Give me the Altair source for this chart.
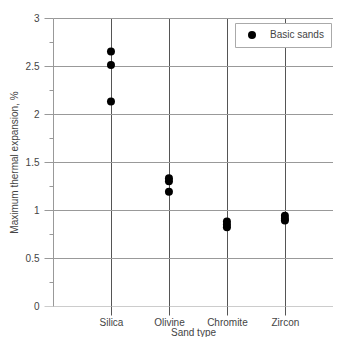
import altair as alt
import pandas as pd

sand_types = ["Silica", "Olivine", "Chromite", "Zircon"]
silica = [2.65, 2.51, 2.13]
olivine = [1.33, 1.30, 1.19]
chromite = [0.88, 0.85, 0.82]
zircon = [0.94, 0.91, 0.89]
series_name = "Basic sands"

rows = []
for i, (name, vals) in enumerate(zip(sand_types, [silica, olivine, chromite, zircon])):
    for v in vals:
        rows.append({"pos": i + 1, "sand": name, "value": v, "series": series_name})
df = pd.DataFrame(rows)

label_map = "{" + ",".join(f"'{i+1}':'{n}'" for i, n in enumerate(sand_types)) + "}"
y_values = [i * 0.25 for i in range(13)]

font = "Liberation Sans"
text_color = "#444444"

chart = alt.Chart(df).mark_circle(size=64, opacity=1).encode(
    x=alt.X(
        "pos:Q",
        scale=alt.Scale(domain=[0, 4.83], nice=False, zero=False),
        axis=alt.Axis(
            values=[1, 2, 3, 4],
            labelExpr=f"{label_map}[datum.value]",
            title="Sand type",
            grid=True,
            gridColor="#555555",
            gridWidth=1,
            domain=False,
            ticks=True,
            tickSize=9,
            tickColor="#555555",
            labelPadding=2,
            titlePadding=0,
            labelFont=font,
            titleFont=font,
            labelFontSize=10,
            titleFontSize=10,
            titleFontWeight="normal",
            labelColor=text_color,
            titleColor=text_color,
        ),
    ),
    y=alt.Y(
        "value:Q",
        scale=alt.Scale(domain=[0, 3], nice=False),
        axis=alt.Axis(
            values=y_values,
            labelExpr="datum.value % 0.5 == 0 ? format(datum.value, '~g') : ''",
            title="Maximum thermal expansion, %",
            grid=True,
            gridColor={"condition": {"test": "datum.value == 0", "value": "#cccccc"}, "value": "#999999"},
            gridOpacity={"condition": {"test": "datum.value % 0.5 != 0", "value": 0}, "value": 1},
            tickSize={"condition": {"test": "datum.value % 0.5 != 0", "value": 4}, "value": 9},
            tickColor={"condition": {"test": "datum.value == 0", "value": "#cccccc"}, "value": "#999999"},
            domainColor="#999999",
            labelPadding=5,
            titlePadding=5,
            labelFont=font,
            titleFont=font,
            labelFontSize=10,
            titleFontSize=10,
            titleFontWeight="normal",
            labelColor=text_color,
            titleColor=text_color,
        ),
    ),
    color=alt.Color(
        "series:N",
        scale=alt.Scale(range=["black"]),
        legend=alt.Legend(
            title=None,
            orient="none",
            legendX=182,
            legendY=5,
            fillColor="white",
            strokeColor="#aaaaaa",
            padding=7,
            symbolOffset=5,
            symbolSize=64,
            symbolType="circle",
            symbolOpacity=1,
            labelOffset=13,
            labelFont=font,
            labelFontSize=10,
            labelColor=text_color,
        ),
    ),
).properties(
    width=280,
    height=288,
    autosize=alt.AutoSizeParams(type="none"),
    padding={"top": 10, "left": 45, "right": 0, "bottom": 31},
).configure_view(stroke=None).configure_axisY(titleX=-34)

chart.save("out.html", embed_options={"renderer": "svg", "actions": False})
